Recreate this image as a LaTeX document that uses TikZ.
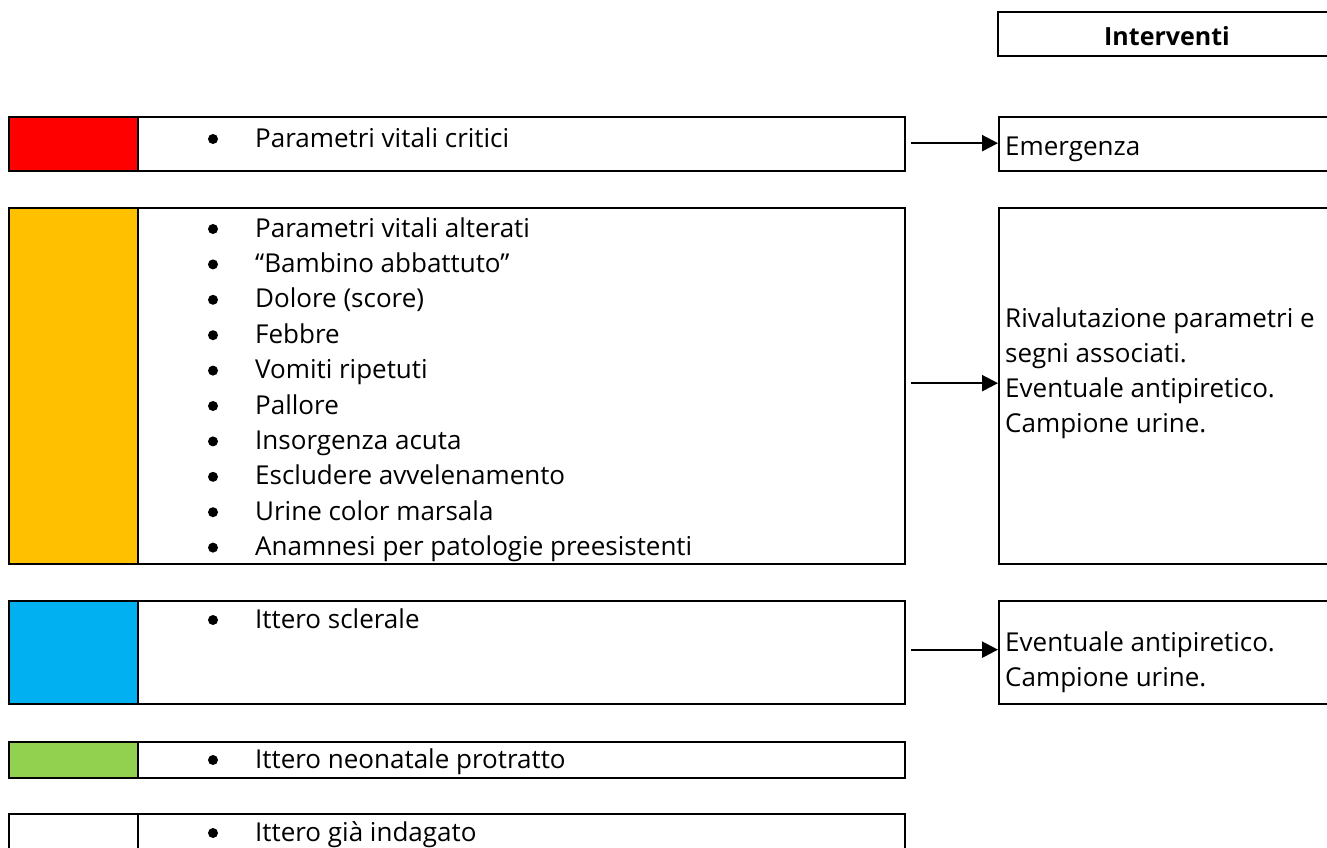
\documentclass[tikz,border=0pt]{standalone}
\usepackage{fontspec}
\setmainfont{Open Sans}
\usetikzlibrary{arrows.meta}
\definecolor{codeRed}{HTML}{FF0000}
\definecolor{codeYellow}{HTML}{FFC000}
\definecolor{codeBlue}{HTML}{00B0F0}
\definecolor{codeGreen}{HTML}{92D050}
\begin{document}
\begin{tikzpicture}[x=1pt,y=-1pt,
  box/.style={draw=black,line width=2.3pt,rectangle,inner sep=0pt,anchor=north west},
  txt/.style={anchor=base west,inner sep=0pt,font=\fontsize{26}{35}\selectfont},
  bul/.style={fill=black},
  arr/.style={line width=2.3pt,-{Triangle[length=16pt,width=16pt]},shorten <=5pt}]
\useasboundingbox (0,0) rectangle (1327,847);

% header of the interventions column
\node[box,minimum width=340pt,minimum height=44pt] (hdr) at (997,11) {};
\node[anchor=base,inner sep=0pt,font=\fontsize{25}{35}\selectfont\bfseries] (hdrt) at (1167,45) {Interventi};

% colour cells
\node[box,fill=codeRed,minimum width=129pt,minimum height=54pt] (c1) at (8,116) {};
\node[box,fill=codeYellow,minimum width=129pt,minimum height=356pt] (c2) at (8,207) {};
\node[box,fill=codeBlue,minimum width=129pt,minimum height=103pt] (c3) at (8,600) {};
\node[box,fill=codeGreen,minimum width=129pt,minimum height=36pt] (c4) at (8,741) {};
\node[box,fill=white,minimum width=129pt,minimum height=60pt] (c5) at (8,813) {};

% criteria boxes
\node[box,minimum width=767pt,minimum height=54pt] (r1) at (137,116) {};
\node[box,minimum width=767pt,minimum height=356pt] (r2) at (137,207) {};
\node[box,minimum width=767pt,minimum height=103pt] (r3) at (137,600) {};
\node[box,minimum width=767pt,minimum height=36pt] (r4) at (137,741) {};
\node[box,minimum width=767pt,minimum height=60pt] (r5) at (137,813) {};

% intervention boxes
\node[box,minimum width=340pt,minimum height=54pt] (i1) at (998,116) {};
\node[box,minimum width=340pt,minimum height=356pt] (i2) at (998,207) {};
\node[box,minimum width=340pt,minimum height=103pt] (i3) at (998,600) {};

% bullet items
\fill[bul] (213,139) circle (5pt);
\node[txt] (t1) at (255,147) {Parametri vitali critici};

\foreach \t [count=\i] in {Parametri vitali alterati,“Bambino abbattuto”,Dolore (score),Febbre,Vomiti ripetuti,Pallore,Insorgenza acuta,Escludere avvelenamento,Urine color marsala,Anamnesi per patologie preesistenti}{
  \pgfmathsetmacro{\yy}{237+(\i-1)*35.4}
  \fill[bul] (213,\yy-8) circle (5pt);
  \node[txt] (y\i) at (255,\yy) {\t};
}

\fill[bul] (213,620) circle (5pt);
\node[txt] (t3) at (255,628) {Ittero sclerale};
\fill[bul] (213,760) circle (5pt);
\node[txt] (t4) at (255,768) {Ittero neonatale protratto};
\fill[bul] (213,833) circle (5pt);
\node[txt] (t5) at (255,841) {Ittero già indagato};

% intervention texts
\node[txt] (e1) at (1005,155) {Emergenza};
\node[txt] (e2a) at (1005,327) {Rivalutazione parametri e};
\node[txt] (e2b) at (1005,362) {segni associati.};
\node[txt] (e2c) at (1005,397) {Eventuale antipiretico.};
\node[txt] (e2d) at (1005,432) {Campione urine.};
\node[txt] (e3a) at (1005,651) {Eventuale antipiretico.};
\node[txt] (e3b) at (1005,686) {Campione urine.};

% arrows
\draw[arr] ([yshift=1pt]r1.east) -- ([yshift=1pt]i1.west);
\draw[arr] ([yshift=3pt]r2.east) -- ([yshift=3pt]i2.west);
\draw[arr] ([yshift=3pt]r3.east) -- ([yshift=3pt]i3.west);
\end{tikzpicture}
\end{document}
